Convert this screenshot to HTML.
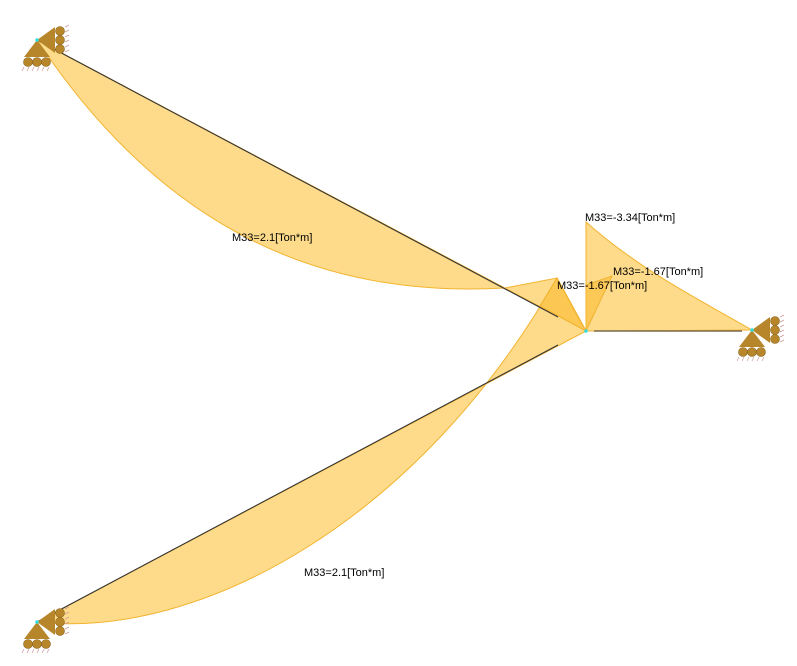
<!DOCTYPE html>
<html><head><meta charset="utf-8"><style>
html,body{margin:0;padding:0;background:#fff;width:797px;height:666px;overflow:hidden}
svg text{font-family:"Liberation Sans","DejaVu Sans",sans-serif;font-size:11px;fill:#000}
</style></head><body>
<svg width="797" height="666" viewBox="0 0 797 666" xmlns="http://www.w3.org/2000/svg">
<defs>
<g id="sup">
  <polygon points="0,0 -13,17 13,17" fill="#B8862A"/>
  <circle cx="-9" cy="22" r="4.5" fill="#B8862A" stroke="#8a6420" stroke-width="0.6"/>
  <circle cx="0" cy="22" r="4.5" fill="#B8862A" stroke="#8a6420" stroke-width="0.6"/>
  <circle cx="9" cy="22" r="4.5" fill="#B8862A" stroke="#8a6420" stroke-width="0.6"/>
  <polygon points="0,0 18,-13 18,13" fill="#B8862A"/>
  <circle cx="23" cy="-9" r="4.5" fill="#B8862A" stroke="#8a6420" stroke-width="0.6"/>
  <circle cx="23" cy="0" r="4.5" fill="#B8862A" stroke="#8a6420" stroke-width="0.6"/>
  <circle cx="23" cy="9" r="4.5" fill="#B8862A" stroke="#8a6420" stroke-width="0.6"/>
  <path d="M-13,27 l-2,4 M-8,27 l-2,4 M-3,27 l-2,4 M2,27 l-2,4 M7,27 l-2,4 M12,27 l-2,4 M28,-13 l4,-2 M28,-8 l4,-2 M28,-3 l4,-2 M28,2 l4,-2 M28,7 l4,-2 M28,12 l4,-2" stroke="#c99" stroke-width="0.7"/>
  <circle cx="0" cy="0" r="1.8" fill="#3dd"/>
</g>
</defs>
<g fill="#FDD67A" fill-opacity="0.88" stroke="#F2B430" stroke-width="1">
  <path d="M37,40 C150,210 300,300 505,288 L557,278 L586,331 Z"/>
  <path d="M37,622 C200,640 420,520 557,278 L586,331 Z"/>
  <path d="M586,222 L586,331 L752,330 C700,300 640,270 586,222 Z"/>
</g>
<g fill="#FBC040" fill-opacity="0.7" stroke="#F2B430" stroke-width="1">
  <polygon points="557,278 586,331 578,318"/>
  <polygon points="557,278 586,331 540,306"/>
  <polygon points="586,331 612,276 586,285"/>
</g>
<g stroke="#333" stroke-width="1.1">
  <line x1="37" y1="40" x2="558" y2="317"/>
  <line x1="37" y1="622" x2="558" y2="345"/>
  <line x1="594" y1="331" x2="742" y2="331" stroke="#7a6a4a" stroke-width="1.5"/>
</g>
<use href="#sup" x="37" y="40"/>
<use href="#sup" x="37" y="622"/>
<use href="#sup" x="752" y="330"/>
<circle cx="586" cy="331" r="1.8" fill="#3dd"/>
<text x="232" y="241">M33=2.1[Ton*m]</text>
<text x="304" y="576">M33=2.1[Ton*m]</text>
<text x="585" y="221">M33=-3.34[Ton*m]</text>
<text x="613" y="275">M33=-1.67[Ton*m]</text>
<text x="557" y="289">M33=-1.67[Ton*m]</text>
</svg>
</body></html>
